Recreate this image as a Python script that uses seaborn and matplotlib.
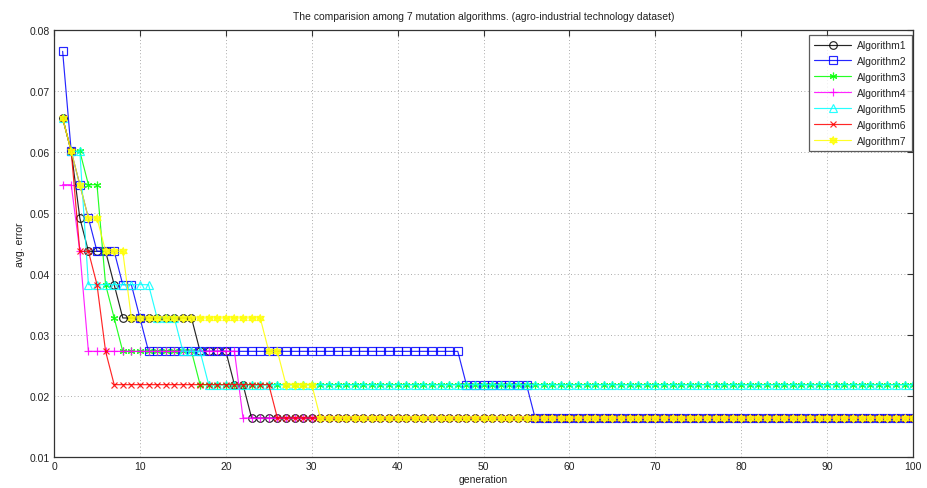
import numpy as np
import pandas as pd
import matplotlib
matplotlib.use("Agg")
import matplotlib.pyplot as plt
from matplotlib import font_manager
import seaborn as sns

# error levels reached by the mutation algorithms
E14, E12, E11, E10, E9, E8 = 0.07650, 0.06557, 0.06011, 0.05464, 0.04918, 0.04372
E7, E6, E5, E4, E3 = 0.03825, 0.03279, 0.02732, 0.02186, 0.01639

generations = np.arange(1, 101)

# each series as (error level, number of consecutive generations)
alg1_steps = [(E12, 1), (E11, 1), (E9, 1), (E8, 3), (E7, 1), (E6, 9), (E5, 4), (E4, 2), (E3, 78)]
alg2_steps = [(E14, 1), (E11, 1), (E10, 1), (E9, 1), (E8, 3), (E7, 2), (E6, 1), (E5, 37), (E4, 8), (E3, 45)]
alg3_steps = [(E12, 1), (E11, 2), (E10, 2), (E7, 1), (E6, 1), (E5, 9), (E4, 84)]
alg4_steps = [(E10, 2), (E8, 1), (E5, 18), (E3, 79)]
alg5_steps = [(E12, 1), (E11, 2), (E7, 8), (E6, 3), (E5, 3), (E4, 83)]
alg6_steps = [(E12, 1), (E11, 1), (E8, 2), (E7, 1), (E5, 1), (E4, 19), (E3, 75)]
alg7_steps = [(E12, 1), (E11, 1), (E10, 1), (E9, 2), (E8, 3), (E6, 16), (E5, 2), (E4, 4), (E3, 70)]

names = ["Algorithm1", "Algorithm2", "Algorithm3", "Algorithm4",
         "Algorithm5", "Algorithm6", "Algorithm7"]
steps = [alg1_steps, alg2_steps, alg3_steps, alg4_steps, alg5_steps, alg6_steps, alg7_steps]

# six-pointed star outline
ang = np.deg2rad(90 + 30 * np.arange(12))
rad = np.where(np.arange(12) % 2 == 0, 1.0, 0.58)
hexagram = list(zip(rad * np.cos(ang), rad * np.sin(ang)))

colors = ["#000000", "#0000ff", "#00ff00", "#ff00ff", "#00ffff", "#ff0000", "#ffff00"]
markers = ["o", "s", (6, 2, 0), "+", "^", "x", hexagram]
hollow = [True, True, False, False, True, False, False]
msizes = [5.5, 5.5, 5.5, 6, 5.5, 4, 6]


def expand(st):
    return np.concatenate([np.full(n, v) for v, n in st])


frames = []
for name, st in zip(names, steps):
    frames.append(pd.DataFrame({"generation": generations, "error": expand(st), "algorithm": name}))
data = pd.concat(frames, ignore_index=True)

sns.set_style("white")
avail = {f.name for f in font_manager.fontManager.ttflist}
family = ["Liberation Sans Narrow"] if "Liberation Sans Narrow" in avail else ["Liberation Sans"]
plt.rcParams["font.family"] = family + ["DejaVu Sans"]

fig = plt.figure(figsize=(9.27, 4.89), dpi=100)
ax = fig.add_axes([0.0583, 0.0634, 0.9267, 0.8732])

for name, c, m, h, ms in zip(names, colors, markers, hollow, msizes):
    sub = data[data["algorithm"] == name]
    sns.lineplot(data=sub, x="generation", y="error", ax=ax, color=c, linewidth=0.85,
                 marker=m, markersize=ms, markeredgecolor=c,
                 markerfacecolor="none" if h else c, markeredgewidth=0.85,
                 label=name, alpha=0.85, estimator=None, errorbar=None)

ax.set_xlim(0, 100)
ax.set_ylim(0.01, 0.08)
ax.set_xticks(np.arange(0, 101, 10))
ax.set_yticks(np.arange(0.01, 0.081, 0.01))
ax.set_yticklabels([f"{v:.2f}" for v in np.arange(0.01, 0.081, 0.01)])
ax.grid(True, linestyle=(0, (1, 3)), color="#909090", linewidth=0.6)
ax.tick_params(direction="in", length=4, width=0.8, labelsize=7.5, top=True, right=True,
               color="#333333", labelcolor="#222222", pad=3)
for s in ax.spines.values():
    s.set_color("#333333")
    s.set_linewidth(0.9)

ax.set_xlabel("generation", fontsize=7.5, labelpad=2, color="#222222")
ax.set_ylabel("avg. error", fontsize=7.5, color="#222222")
ax.yaxis.set_label_coords(-0.034, 0.5)
ax.set_title("The comparision among 7 mutation algorithms. (agro-industrial technology dataset)",
             fontsize=7.5, pad=8, color="#222222")

leg = ax.legend(loc="upper right", fontsize=7.5, frameon=True, fancybox=False,
                edgecolor="#333333", handlelength=3.6, borderpad=0.5, labelspacing=0.57,
                handletextpad=0.5, bbox_to_anchor=(1.0, 0.992), borderaxespad=0.15)
leg.get_frame().set_linewidth(0.9)

fig.savefig("out.png", dpi=100)
